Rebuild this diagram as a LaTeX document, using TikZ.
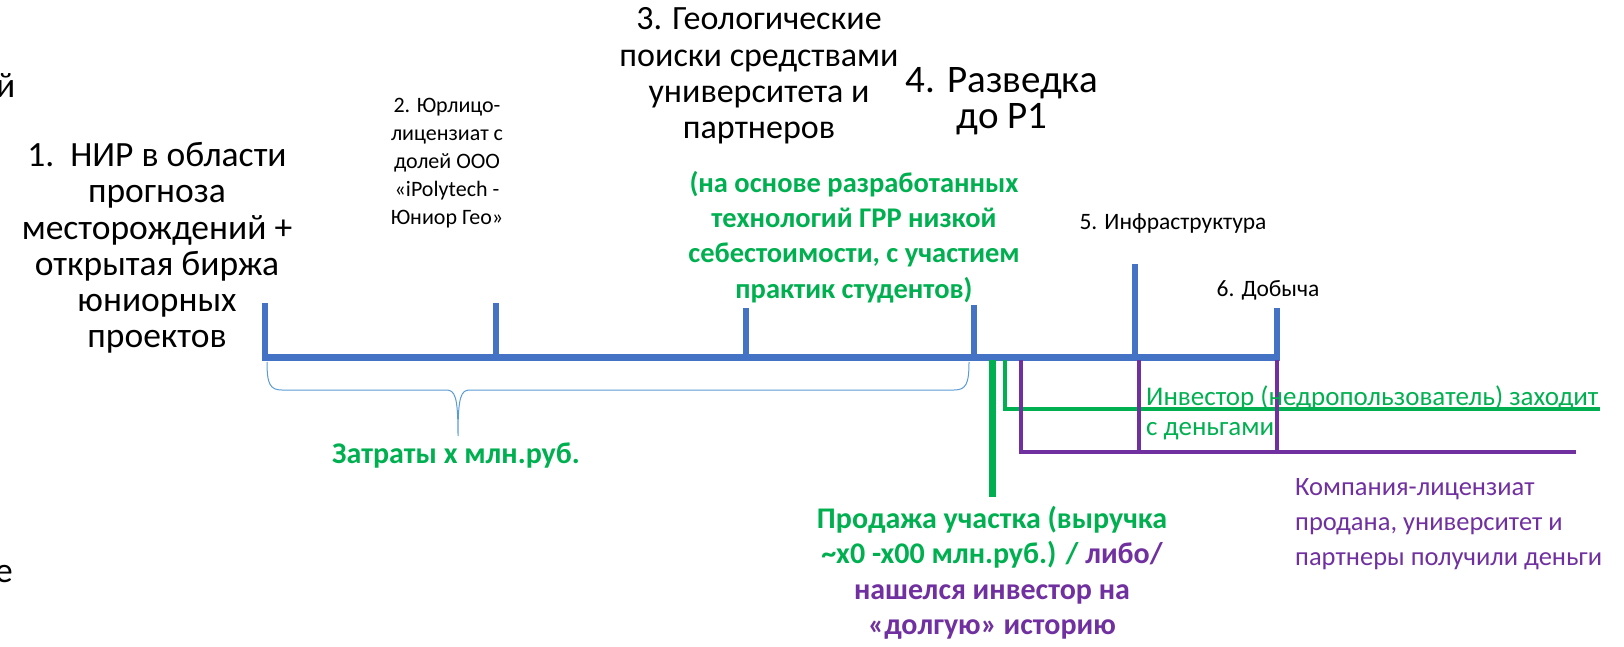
\documentclass[tikz,border=0pt]{standalone}
\usepackage{fontspec}
\setmainfont{Carlito}
\definecolor{tlblue}{HTML}{4472C4}
\definecolor{tlgreen}{HTML}{00B050}
\definecolor{tlpurple}{HTML}{7030A0}
\definecolor{braceblue}{HTML}{5B9BD5}
\begin{document}
\begin{tikzpicture}[x=1pt,y=-1pt,
  txt/.style={inner sep=0pt, align=center},
  axisline/.style={draw=tlblue, line width=7pt},
  tick/.style={draw=tlblue, line width=6pt},
  greenthick/.style={draw=tlgreen, line width=7pt},
  greenthin/.style={draw=tlgreen, line width=4pt},
  purplethin/.style={draw=tlpurple, line width=4pt},
  costbrace/.style={draw=braceblue, line width=1pt}]
\useasboundingbox (0,0) rectangle (1624,647);

% time axis and stage ticks
\coordinate (a0) at (262,357);
\coordinate (a1) at (1280,357);
\coordinate (t1) at (265,357);  \coordinate (t1top) at (265,303);
\coordinate (t2) at (496,357);  \coordinate (t2top) at (496,303);
\coordinate (t3) at (746,357);  \coordinate (t3top) at (746,308);
\coordinate (t4) at (974,357);  \coordinate (t4top) at (974,305);
\coordinate (t5) at (1135,357); \coordinate (t5top) at (1135,264);
\coordinate (t6) at (1277,357); \coordinate (t6top) at (1277,308);
\draw[axisline] (a0) -- (a1);
\foreach \i in {1,...,6} {\draw[tick] (t\i) -- (t\i top);}

% sale / investor branches
\coordinate (g0) at (992,360);  \coordinate (g1) at (992,497);
\draw[greenthick] (g0) -- (g1);
\coordinate (h0) at (1005,360); \coordinate (h1) at (1005,409); \coordinate (h2) at (1600,409);
\draw[greenthin] (h0) -- (h1) -- (h2);
\coordinate (p0) at (1021,360); \coordinate (p1) at (1021,452); \coordinate (p2) at (1576,452);
\draw[purplethin] (p0) -- (p1) -- (p2);
\coordinate (q0) at (1139,360); \coordinate (q1) at (1139,452);
\coordinate (r0) at (1277,360); \coordinate (r1) at (1277,452);
\draw[purplethin] (q0) -- (q1);
\draw[purplethin] (r0) -- (r1);

% cost brace under stages 1-4
\coordinate (b0) at (267,362);
\coordinate (btip) at (458,436);
\coordinate (b1) at (969,362);
\draw[costbrace] (b0) .. controls (267,384) and (270,390) .. (282,390)
  -- (446,390) .. controls (455,390) and (458,396) .. (btip)
  .. controls (458,396) and (461,390) .. (470,390)
  -- (954,390) .. controls (966,390) and (969,384) .. (b1);

% stage captions
\node[txt, font=\fontsize{35.5}{36.25}\selectfont] (s1) at (157,248)
  {1.~~НИР в области\\прогноза\\месторождений +\\открытая биржа\\юниорных\\проектов};
\node[txt, font=\fontsize{22}{28}\selectfont] (s2) at (447,163)
  {2. Юрлицо-\\лицензиат с\\долей ООО\\«iPolytech -\\Юниор Гео»};
\node[txt, font=\fontsize{34}{36.2}\selectfont] (s3) at (759,76)
  {3. Геологические\\поиски средствами\\университета и\\партнеров};
\node[txt, font=\fontsize{39}{36.5}\selectfont] (s4) at (1002,101)
  {4. Разведка\\до Р1};
\node[txt, text=tlgreen, font=\bfseries\fontsize{28.5}{35.2}\selectfont] (s3note) at (854,237)
  {(на основе разработанных\\технологий ГРР низкой\\себестоимости, с участием\\практик студентов)};
\node[txt, font=\fontsize{23.5}{26}\selectfont] (s5) at (1173,223) {5. Инфраструктура};
\node[txt, font=\fontsize{23.5}{26}\selectfont] (s6) at (1268,290) {6. Добыча};

% outcome captions
\node[txt, text=tlgreen, font=\bfseries\fontsize{30}{34}\selectfont] (cost) at (456,456)
  {Затраты х млн.руб.};
\node[txt, anchor=west, align=left, text=tlgreen, font=\fontsize{27}{29.5}\selectfont] (inv) at (1146,413)
  {Инвестор (недропользователь) заходит\\с деньгами};
\node[txt, anchor=west, align=left, text=tlpurple, font=\fontsize{26.5}{35}\selectfont] (sold) at (1295,524)
  {Компания-лицензиат\\продана, университет и\\партнеры получили деньги};
\node[txt, font=\bfseries\fontsize{30}{35.5}\selectfont] (sale) at (992,573)
  {\textcolor{tlgreen}{Продажа участка (выручка}\\
   \textcolor{tlgreen}{\textasciitilde x0 -x00 млн.руб.) /} \textcolor{tlpurple}{либо/}\\
   \textcolor{tlpurple}{нашелся инвестор на}\\
   \textcolor{tlpurple}{«долгую» историю}};

% text fragments at the left edge
\node[txt, anchor=west, font=\fontsize{35.5}{36}\selectfont] (edge1) at (-4,86) {й};
\node[txt, anchor=west, font=\fontsize{35.5}{36}\selectfont] (edge2) at (-5,574) {е};
\end{tikzpicture}
\end{document}
